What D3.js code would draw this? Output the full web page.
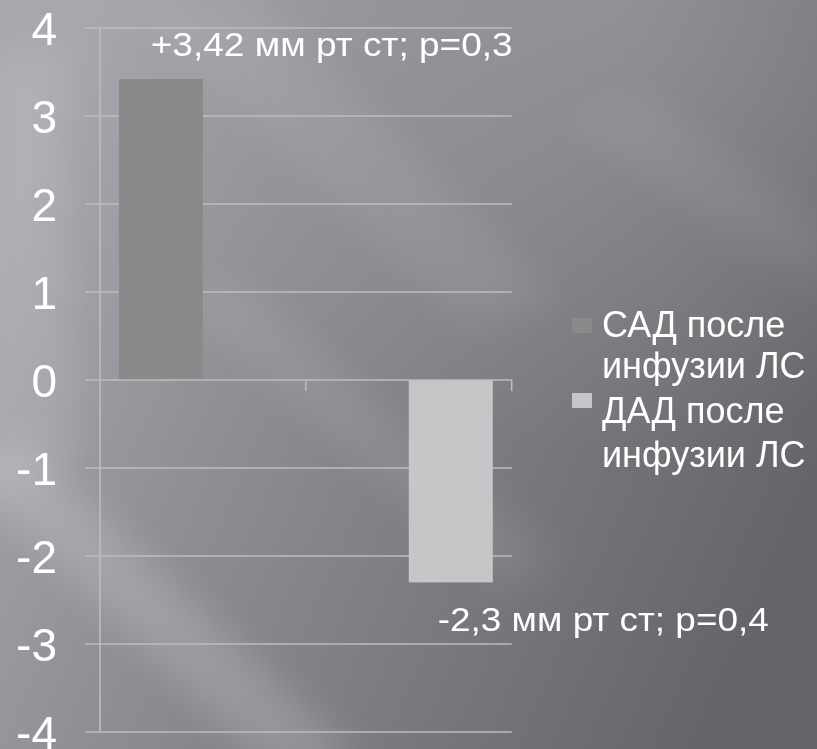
<!DOCTYPE html>
<html>
<head>
<meta charset="utf-8">
<script src="https://cdn.jsdelivr.net/npm/d3@7"></script>
<style>
  html, body { margin: 0; padding: 0; background: #7f7e83; }
  svg { display: block; }
  text { font-family: "Liberation Sans", Arial, sans-serif; fill: #ffffff; }
</style>
</head>
<body>
<svg id="chart" width="817" height="749"></svg>
<script>
// Chart data
const categories = ["1", "2"];
const seriesNames = ["САД после инфузии ЛС", "ДАД после инфузии ЛС"];
const sadValues = [3.42, null];
const dadValues = [null, -2.3];
const pValues = ["0,3", "0,4"];
const yTicks = [-4, -3, -2, -1, 0, 1, 2, 3, 4];
const yTickLabels = ["-4", "-3", "-2", "-1", "0", "1", "2", "3", "4"];
const legendLines = [["САД после", "инфузии ЛС"], ["ДАД после", "инфузии ЛС"]];

const W = 817, H = 749;
const seriesColors = ["#8a8a8a", "#c6c6c8"];
const gridColor = "#bdbcc1";

const svg = d3.select("#chart");
const defs = svg.append("defs");

// Backdrop: grey gradient with soft diagonal light streaks
const bg = defs.append("linearGradient").attr("id", "bg")
  .attr("x1", 0).attr("y1", 0.3).attr("x2", 1).attr("y2", 0.7);
[[0, "#a9a7ad"], [0.3, "#929096"], [0.65, "#7a797e"], [1, "#646368"]]
  .forEach(([o, c]) => bg.append("stop").attr("offset", o).attr("stop-color", c));

const topGlow = defs.append("radialGradient").attr("id", "topGlow")
  .attr("cx", 0.75).attr("cy", 0).attr("r", 0.6);
topGlow.append("stop").attr("offset", 0).attr("stop-color", "#a09fa4").attr("stop-opacity", 0.55);
topGlow.append("stop").attr("offset", 1).attr("stop-color", "#a09fa4").attr("stop-opacity", 0);

defs.append("filter").attr("id", "soft").attr("x", -0.5).attr("y", -0.5).attr("width", 2).attr("height", 2)
  .append("feGaussianBlur").attr("stdDeviation", 18);

svg.append("rect").attr("width", W).attr("height", H).attr("fill", "url(#bg)");
svg.append("rect").attr("width", W).attr("height", H).attr("fill", "url(#topGlow)");

const streaks = svg.append("g").attr("filter", "url(#soft)");
const streakShapes = [
  {pts: [[-40, 470], [20, 440], [360, 760], [280, 780]], o: 0.16},
  {pts: [[120, 0], [260, 0], [560, 300], [470, 330]], o: 0.07},
  {pts: [[180, 300], [240, 280], [560, 560], [500, 590]], o: 0.08},
  {pts: [[-20, 60], [60, 40], [80, 460], [-20, 500]], o: 0.1},
  {pts: [[560, 120], [640, 90], [830, 230], [830, 300]], o: 0.06}
];
streaks.selectAll("path").data(streakShapes).join("path")
  .attr("d", d => "M" + d.pts.map(p => p.join(",")).join("L") + "Z")
  .attr("fill", "#ffffff").attr("opacity", d => d.o);

// Scales
const plotLeft = 100, plotRight = 511.7;
const y = d3.scaleLinear().domain([-4, 4]).range([732, 28]);
const x0 = d3.scaleBand().domain(categories).range([plotLeft, plotRight]).padding(0);
const x1 = d3.scaleBand().domain(seriesNames).range([0, x0.bandwidth()])
  .paddingInner(0).paddingOuter(0.225);

// Horizontal gridlines, extending left past the axis as tick marks
const grid = svg.append("g");
grid.selectAll("line").data(yTicks.filter(t => t !== 0)).join("line")
  .attr("x1", plotLeft - 15).attr("x2", plotRight)
  .attr("y1", d => y(d)).attr("y2", d => y(d))
  .attr("stroke", gridColor).attr("stroke-width", 1.6);

// Vertical value axis
svg.append("line")
  .attr("x1", plotLeft).attr("x2", plotLeft)
  .attr("y1", y(4)).attr("y2", y(-4))
  .attr("stroke", gridColor).attr("stroke-width", 1.6);

// Y tick labels
const yAxis = d3.axisLeft(y).tickValues(yTicks)
  .tickFormat((d, i) => yTickLabels[i]).tickSize(0).tickPadding(0);
const yAxisG = svg.append("g").attr("transform", "translate(57,0)").call(yAxis);
yAxisG.select(".domain").remove();
yAxisG.selectAll("text")
  .attr("font-size", 46).attr("fill", "#ffffff")
  .attr("font-family", "'Liberation Sans', Arial, sans-serif")
  .attr("dy", "0.36em");

// Bars
const seriesData = [sadValues, dadValues];
const bars = svg.append("g");
seriesData.forEach((vals, si) => {
  bars.selectAll(null)
    .data(categories.map((c, ci) => ({c, v: vals[ci]})).filter(d => d.v !== null))
    .join("rect")
    .attr("x", d => x0(d.c) + x1(seriesNames[si]))
    .attr("width", x1.bandwidth())
    .attr("y", d => y(Math.max(0, d.v)))
    .attr("height", d => Math.abs(y(d.v) - y(0)))
    .attr("fill", seriesColors[si]);
});

// Category axis along zero with tick marks at category boundaries
svg.append("line")
  .attr("x1", plotLeft - 15).attr("x2", plotRight)
  .attr("y1", y(0)).attr("y2", y(0))
  .attr("stroke", gridColor).attr("stroke-width", 1.6);
const boundaries = categories.map(c => x0(c) + x0.bandwidth());
svg.append("g").selectAll("line").data(boundaries).join("line")
  .attr("x1", d => d).attr("x2", d => d)
  .attr("y1", y(0)).attr("y2", y(0) + 11)
  .attr("stroke", gridColor).attr("stroke-width", 1.6);

// Data labels
const fmt = v => (v > 0 ? "+" : "") + String(v).replace(".", ",");
const labelText = (v, p) => fmt(v) + " мм рт ст; p=" + p;
const sadLabel = labelText(sadValues[0], pValues[0]);
const dadLabel = labelText(dadValues[1], pValues[1]);

svg.append("text")
  .attr("x", plotRight + 1).attr("y", y(sadValues[0]) - 23)
  .attr("text-anchor", "end")
  .attr("font-size", 33)
  .attr("textLength", 362).attr("lengthAdjust", "spacingAndGlyphs")
  .text(sadLabel);

svg.append("text")
  .attr("x", x0(categories[1]) + x1(seriesNames[1]) + 29)
  .attr("y", y(dadValues[1]) + 49)
  .attr("font-size", 33)
  .attr("textLength", 331).attr("lengthAdjust", "spacingAndGlyphs")
  .text(dadLabel);

// Legend
const legend = svg.append("g").attr("transform", "translate(572,0)");
const legendSquareTop = [318, 393];
const legendBaselines = [[337, 378], [423, 467]];
legendLines.forEach((lines, i) => {
  legend.append("rect").attr("y", legendSquareTop[i])
    .attr("width", 20).attr("height", 15).attr("fill", seriesColors[i]);
  lines.forEach((ln, j) => {
    legend.append("text").attr("x", 30).attr("y", legendBaselines[i][j])
      .attr("font-size", 36).text(ln);
  });
});
</script>
</body>
</html>
